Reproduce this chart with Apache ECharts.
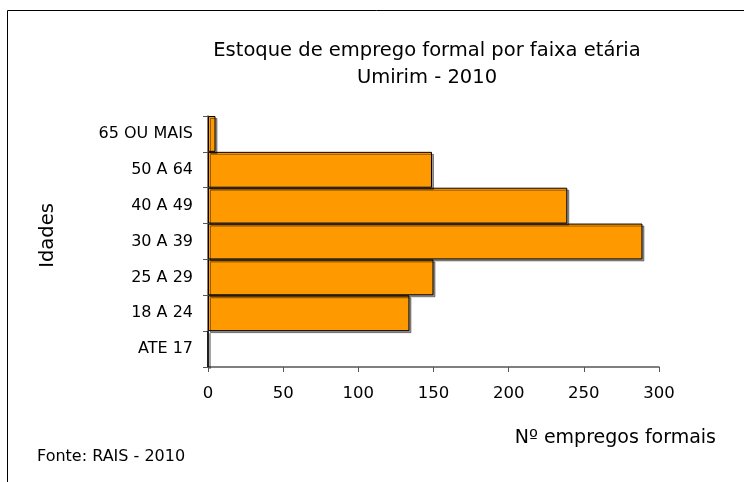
<!DOCTYPE html>
<html>
<head>
<meta charset="utf-8">
<script src="https://cdn.jsdelivr.net/npm/echarts@6/dist/echarts.min.js"></script>
<style>
  html, body { margin: 0; padding: 0; background: #fff; }
  #chart { width: 744px; height: 482px; }
</style>
</head>
<body>
<div id="chart"></div>
<script>
  // faixas etárias (de baixo para cima)
  var categories = ['ATE 17', '18 A 24', '25 A 29', '30 A 39', '40 A 49', '50 A 64', '65 OU MAIS'];
  var empregos = [0, 134, 150, 289, 239, 149, 5];
  var xTicks = [0, 50, 100, 150, 200, 250, 300];

  var font = 'DejaVu Sans';
  var myChart = echarts.init(document.getElementById('chart'));
  var option = {
    animation: false,
    title: {
      text: 'Estoque de emprego formal por faixa etária\nUmirim - 2010',
      left: 422,
      top: 32,
      textAlign: 'center',
      textStyle: { fontFamily: font, fontWeight: 'normal', fontSize: 19.5, color: '#000', lineHeight: 27 }
    },
    grid: { left: 208, top: 116, width: 451, height: 251 },
    xAxis: {
      type: 'value',
      min: xTicks[0],
      max: xTicks[xTicks.length - 1],
      interval: 50,
      splitLine: { show: false },
      axisLine: { show: true, lineStyle: { color: '#555', width: 1.5 } },
      axisTick: { show: true, length: 5, lineStyle: { color: '#555' } },
      axisLabel: { fontFamily: font, fontSize: 16.5, color: '#000', margin: 18 }
    },
    yAxis: {
      type: 'category',
      data: categories,
      name: 'Idades',
      nameLocation: 'middle',
      nameGap: 150,
      nameRotate: 90,
      nameTextStyle: { fontFamily: font, fontSize: 19.5, color: '#000', padding: [0, 0, 0, 12] },
      axisLine: { show: true, lineStyle: { color: '#555', width: 1.5 } },
      axisTick: { show: true, length: 5, lineStyle: { color: '#555' } },
      axisLabel: { fontFamily: font, fontSize: 16, color: '#000', margin: 15 }
    },
    series: [{
      type: 'bar',
      data: empregos,
      barCategoryGap: 0,
      itemStyle: {
        color: '#FF9900',
        borderColor: '#000',
        borderWidth: 1,
        shadowColor: 'rgba(0,0,0,0.4)',
        shadowOffsetX: 2,
        shadowOffsetY: 2,
        shadowBlur: 0
      }
    }],
    graphic: [
      {
        type: 'rect',
        shape: { x: 7.5, y: 10.5, width: 740, height: 500 },
        style: { fill: 'none', stroke: '#000', lineWidth: 1 },
        silent: true
      },
      {
        type: 'text',
        right: 28,
        top: 429,
        style: { text: 'Nº empregos formais', font: '19px "DejaVu Sans"', fill: '#000' }
      },
      {
        type: 'text',
        left: 37,
        top: 449,
        style: { text: 'Fonte: RAIS - 2010', font: '16px "DejaVu Sans"', fill: '#000' }
      }
    ]
  };
  myChart.setOption(option);
</script>
</body>
</html>
